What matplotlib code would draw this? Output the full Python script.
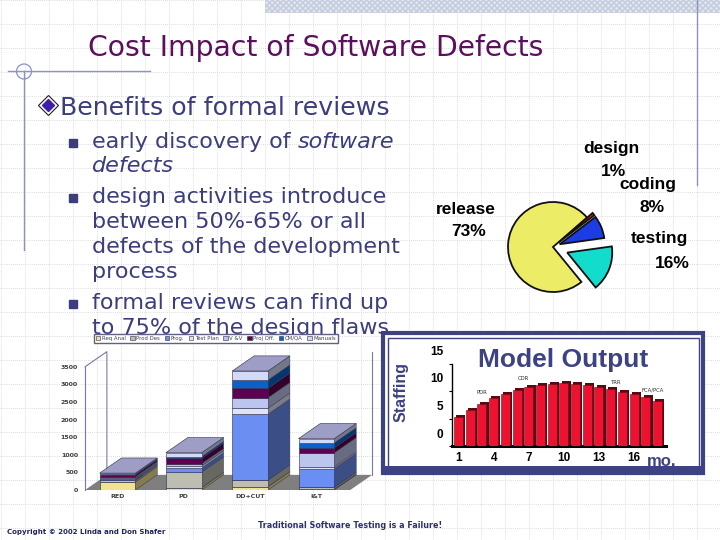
import numpy as np
import matplotlib
matplotlib.use("Agg")
import matplotlib.pyplot as plt
from matplotlib.patches import Rectangle, Polygon, Circle
from matplotlib.transforms import ScaledTranslation
from matplotlib.colors import to_rgb

# pie: where defects cost goes
pie_labels = ["design", "coding", "testing", "release"]
pie_values = [1, 8, 16, 73]
pie_colors = ["#e01e3c", "#1c3ce6", "#12dccb", "#ecec66"]

# stacked effort per phase
phases = ["RED", "PD", "DD+CUT", "I&T"]
activities = ["Req Anal", "Prod Des", "Prog.", "Test Plan", "V &V",
              "Proj Off.", "CM/QA", "Manuals"]
req_anal = [230, 70, 95, 20]
prod_des = [50, 440, 190, 60]
prog = [40, 110, 1870, 530]
test_plan = [30, 70, 170, 50]
v_and_v = [30, 60, 300, 400]
proj_off = [50, 150, 265, 140]
cm_qa = [20, 50, 235, 140]
manuals = [30, 110, 255, 120]
act_colors = ["#f2e28e", "#bdbdb2", "#6b8ef2", "#dfe2fa", "#bcc5ee",
              "#5e0050", "#0a62c8", "#d3d9f8"]

# model output staffing per month
months = np.arange(1, 19)
staffing = [5.2, 6.5, 7.6, 8.7, 9.5, 10.2, 10.7, 11.1, 11.3, 11.4,
            11.3, 11.1, 10.7, 10.3, 9.9, 9.4, 8.9, 8.2]
milestones = ["PDR", "CDR", "TRR", "FCA/PCA"]
milestone_x = [3.0, 6.5, 14.5, 17.6]
milestone_y = [9.8, 12.2, 11.5, 10.2]

bullets = [
    (148, "early discovery of", "software"),
    (172, "", "defects"),
    (203, "design activities introduce", None),
    (228, "between 50%-65% or all", None),
    (253, "defects of the development", None),
    (278, "process", None),
    (309, "formal reviews can find up", None),
    (334, "to 75% of the design flaws", None),
]
bullet_marks = [148, 203, 309]

W, H = 720, 540
NAVY = "#3c4282"
TXT = "#3b3d7d"


def box(x0, y0, x1, y1):
    return [x0 / W, 1 - y1 / H, (x1 - x0) / W, (y1 - y0) / H]


plt.rcParams['font.family'] = ['DejaVu Sans']
fig = plt.figure(figsize=(7.2, 5.4), dpi=100)

# ---- slide background ----
bg = fig.add_axes([0, 0, 1, 1], zorder=-1)
bg.set_xlim(0, W)
bg.set_ylim(H, 0)
bg.axis('off')
for gx in np.arange(0.7, W, 24):
    bg.axvline(gx, color='#d2d2d2', lw=0.6, ls=(0, (1, 1.5)), zorder=0)
for gy in np.arange(0, H, 24):
    bg.axhline(gy, color='#d2d2d2', lw=0.6, ls=(0, (1, 1.5)), zorder=0)

bg.add_patch(Rectangle((265, 0), 455, 12.5, facecolor='#e2e6f0',
                       edgecolor='#c3cbdd', hatch='xxxxxx', lw=0, zorder=1))
bg.plot([697, 697], [0, 185], color='#8d93bd', lw=1, zorder=2)
bg.plot([8, 150], [71, 71], color='#8d93bd', lw=1, zorder=2)
bg.plot([24, 24], [71, 250], color='#8d93bd', lw=1, zorder=2)
bg.add_patch(Circle((24, 71.5), 7.5, fill=False, ec='#8d93bd', lw=0.9, zorder=2))

bg.text(88, 56, "Cost Impact of Software Defects", fontsize=20.3,
        color='#5b0f5d', va='baseline', zorder=5)

bg.plot(48, 105, marker='D', ms=10, mfc='white', mec='#202020', mew=0.8, zorder=5)
bg.plot(48, 105, marker='D', ms=6, mfc='#3f1ea8', mec='#3f1ea8', zorder=6)
bg.text(60, 115, "Benefits of formal reviews", fontsize=18.2, color=TXT,
        va='baseline', zorder=5)

for yb in bullet_marks:
    bg.plot(73, yb - 5, marker='s', ms=5.5, mfc=TXT, mec=TXT, zorder=5)
for yb, plain, ital in bullets:
    t = bg.text(92, yb, plain, fontsize=16, color=TXT, va='baseline', zorder=5)
    if ital:
        if plain:
            bg.annotate(ital, xy=(1, 0), xycoords=t, xytext=(5, 0),
                        textcoords='offset points', fontsize=16, style='italic',
                        color=TXT, va='bottom', ha='left', zorder=5)
        else:
            bg.text(92, yb, ital, fontsize=16, style='italic', color=TXT,
                    va='baseline', zorder=5)

# model output frame
bg.add_patch(Rectangle((383, 333), 320, 140, fc='white', ec=NAVY, lw=3, zorder=3))
bg.add_patch(Rectangle((387.5, 337.5), 311, 130, fc='none', ec=NAVY, lw=1, zorder=3))
bg.add_patch(Rectangle((383, 466), 320, 7, fc=NAVY, ec=NAVY, lw=0, zorder=3))
bg.text(563, 360, "Model Output", fontsize=19, weight='bold', color=NAVY,
        family='Liberation Sans', ha='center', va='center', zorder=5)
bg.text(401, 392, "Staffing", fontsize=11.5, weight='bold', color=NAVY,
        family='Liberation Sans', rotation=90, ha='center', va='center', zorder=5)
bg.text(662, 462, "mo.", fontsize=12, weight='bold', color=NAVY,
        family='Liberation Sans', ha='center', va='center', zorder=6)

bg.text(7, 532, "Copyright \u00a9 2002 Linda and Don Shafer", fontsize=5,
        weight='bold', color='#22245a', va='center', zorder=5)
bg.text(258, 525, "Traditional Software Testing is a Failure!", fontsize=5.8,
        weight='bold', color='#2e3070', va='center', zorder=5)

# ---- pie ----
pr = 45.0
pcx, pcy = 553, 247
axp = fig.add_axes(box(pcx - 70, pcy - 70, pcx + 70, pcy + 70))
axp.pie(pie_values, colors=pie_colors, startangle=41, counterclock=False,
        explode=[0.16, 0.16, 0.34, 0.0],
        wedgeprops=dict(edgecolor='#111111', linewidth=1.3))
axp.set_xlim(-70 / pr, 70 / pr)
axp.set_ylim(-70 / pr, 70 / pr)
axp.axis('off')

pie_label_pos = [(611, 148, 613, 172), (648, 184, 652, 208),
                 (659, 238, 672, 263), (466, 210, 469, 231)]
for name, val, (x1, y1, x2, y2) in zip(pie_labels, pie_values, pie_label_pos):
    bg.text(x1, y1, name, fontsize=12.5, weight='bold', family='Liberation Sans',
            ha='center', va='center', zorder=5)
    bg.text(x2, y2, f"{val}%", fontsize=12.5, weight='bold', family='Liberation Sans',
            ha='center', va='center', zorder=5)

# ---- stacked pseudo-3D bars ----
ax3 = fig.add_axes(box(85, 349.2, 376.1, 490))
ax3.set_xlim(-0.49, 3.9)
ax3.set_ylim(0, 4000)
ax3.patch.set_alpha(0)
DX, DY = 0.33, 430
w = 0.54
x = np.arange(len(phases))
stack = [req_anal, prod_des, prog, test_plan, v_and_v, proj_off, cm_qa, manuals]

ax3.add_patch(Polygon([(-0.49, 0), (3.51, 0), (3.51 + DX, DY), (-0.49 + DX, DY)],
                      closed=True, fc='#7f7f7f', ec='none', zorder=1))
wall = '#7a7aa0'
ax3.plot([-0.49, -0.49 + DX, -0.49 + DX], [3500, 3500 + DY, DY], color=wall,
         lw=0.8, clip_on=False, zorder=1)
ax3.plot([3.51 + DX, 3.51 + DX], [DY, 3500 + DY], color=wall, lw=0.8,
         clip_on=False, zorder=1)

edge = '#2c2c48'
bottom = np.zeros(len(phases))
handles = []
for vals, name, c in zip(stack, activities, act_colors):
    vals = np.array(vals, float)
    bars = ax3.bar(x, vals, w, bottom=bottom, color=c, edgecolor=edge,
                   linewidth=0.4, label=name, zorder=4)
    handles.append(bars)
    side = np.array(to_rgb(c)) * 0.55
    for xi, b, v in zip(x, bottom, vals):
        xr = xi + w / 2
        ax3.add_patch(Polygon([(xr, b), (xr + DX, b + DY), (xr + DX, b + v + DY), (xr, b + v)],
                              closed=True, fc=side, ec=edge, lw=0.3, zorder=3))
    bottom += vals
for xi, t in zip(x, bottom):
    ax3.add_patch(Polygon([(xi - w / 2, t), (xi + w / 2, t), (xi + w / 2 + DX, t + DY),
                           (xi - w / 2 + DX, t + DY)],
                          closed=True, fc='#9d9dc6', ec=edge, lw=0.4, zorder=4))

ax3.set_yticks(np.arange(0, 3501, 500))
ax3.set_xticks(x)
ax3.set_xticklabels(phases)
ax3.tick_params(axis='y', length=0, pad=5, labelsize=4.5, labelcolor='#404040')
ax3.tick_params(axis='x', length=0, pad=3, labelsize=4.5, labelcolor='#404040')
for lab in ax3.get_xticklabels() + ax3.get_yticklabels():
    lab.set_fontweight('bold')
for s in ['top', 'right', 'bottom']:
    ax3.spines[s].set_visible(False)
ax3.spines['left'].set_color(wall)
ax3.spines['left'].set_linewidth(0.8)
ax3.spines['left'].set_bounds(0, 3500)

fig.legend(handles=handles, labels=activities, loc='center',
           bbox_to_anchor=(216 / W, 1 - 338.5 / H), ncol=8, fontsize=3.9,
           handlelength=0.8, handleheight=0.8, handletextpad=0.3,
           columnspacing=0.85, borderpad=0.3, frameon=True, fancybox=False,
           edgecolor='#606080', framealpha=1, labelcolor='#404060')

# ---- model output bars ----
ax4 = fig.add_axes(box(452.1, 363.5, 665.6, 446))
ax4.set_xlim(0.45, 18.7)
ax4.set_ylim(0, 15)
ax4.patch.set_alpha(0)
ax4.bar(months + 0.2, np.array(staffing) + 0.35, 0.77, color='#5a0812', zorder=2)
ax4.bar(months, staffing, 0.77, color='#ec1230', edgecolor='#6a0a18',
        linewidth=0.4, zorder=3)
for name, mx, my in zip(milestones, milestone_x, milestone_y):
    ax4.text(mx, my, name, fontsize=3.8, ha='center', va='center', color='#303030')

ax4.set_yticks([0, 5, 10, 15])
ax4.set_xticks([1, 4, 7, 10, 13, 16])
ax4.tick_params(axis='y', length=2.5, width=0.8, pad=4, labelsize=8.5)
ax4.tick_params(axis='x', length=0, pad=4, labelsize=8.5)
for lab in ax4.get_xticklabels() + ax4.get_yticklabels():
    lab.set_fontweight('bold')
    lab.set_family('Liberation Sans')
for lab in ax4.get_yticklabels():
    lab.set_transform(lab.get_transform() + ScaledTranslation(0, 0.13, fig.dpi_scale_trans))
ax4.spines['top'].set_visible(False)
ax4.spines['right'].set_visible(False)
ax4.spines['bottom'].set_linewidth(2.2)
ax4.spines['left'].set_linewidth(1)

fig.savefig('out.png', dpi=100)
